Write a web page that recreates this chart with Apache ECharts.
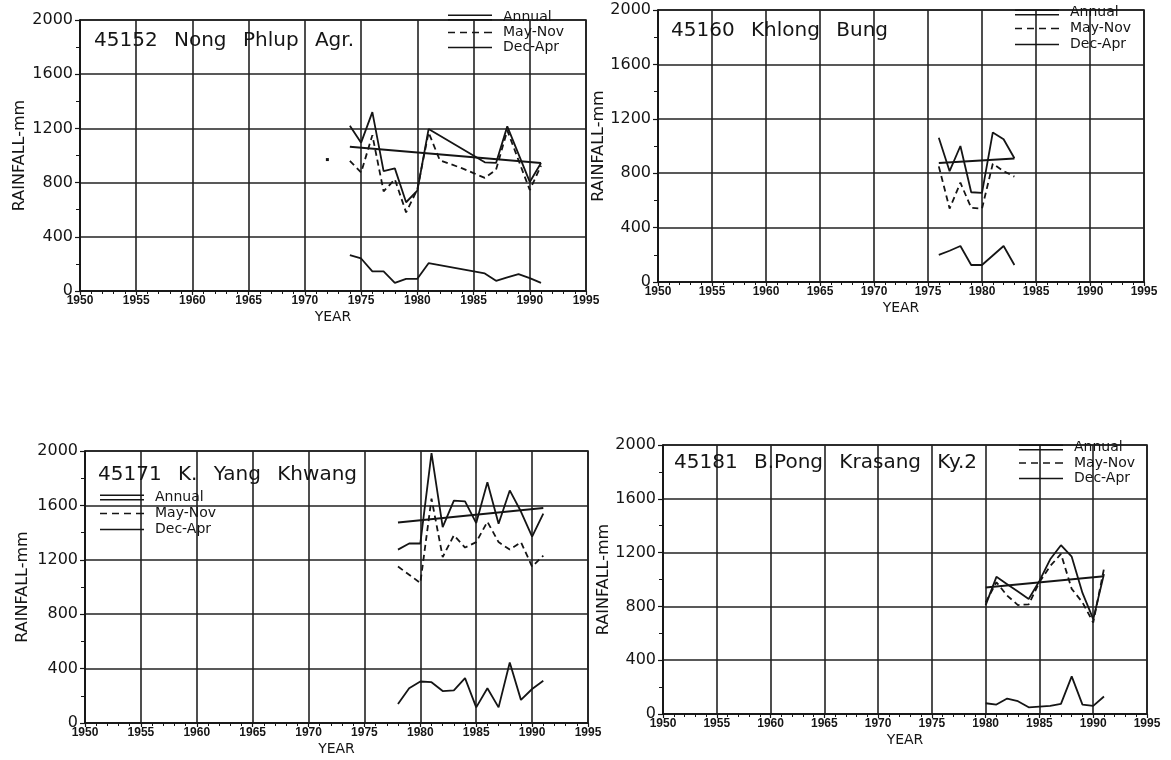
<!DOCTYPE html>
<html><head><meta charset="utf-8">
<script src="https://cdn.jsdelivr.net/npm/echarts@6/dist/echarts.min.js"></script>
<style>html,body{margin:0;background:#fff}#c{width:1171px;height:760px}</style>
</head><body><div id="c"></div>
<script>
// ---- Axis ranges / ticks ----
const yearMin = 1950, yearMax = 1995, yearStep = 5;
const rainMin = 0, rainMax = 2000, rainStep = 400;

// ---- Panel titles ----
const titles = [
  '45152\u2002 Nong\u2002 Phlup\u2002 Agr.',
  '45160\u2002 Khlong\u2002 Bung',
  '45171\u2002 K.\u2002 Yang\u2002 Khwang',
  '45181\u2002 B.Pong\u2002 Krasang\u2002 Ky.2'
];
const seriesNames = ['Annual', 'May-Nov', 'Dec-Apr'];

// ---- Panel 1: 45152 Nong Phlup Agr. ----
const p1Years  = [1972,1973,1974,1975,1976,1977,1978,1979,1980,1981,1982,1983,1984,1985,1986,1987,1988,1989,1990,1991];
const p1Annual = [null,null,1220,1095,1320,885,905,655,740,1195,null,null,null,null,950,945,1215,1010,805,945];
const p1MayNov = [970,null,960,875,1150,735,825,580,750,1170,965,935,905,870,835,895,1185,965,745,925];
const p1DecApr = [null,null,265,240,145,145,60,90,90,205,null,null,null,null,130,75,100,125,95,60];
const p1TrendYears = [1974,1991];
const p1Trend = [1065,945];

// ---- Panel 2: 45160 Khlong Bung ----
const p2Years  = [1976,1977,1978,1979,1980,1981,1982,1983];
const p2Annual = [1060,815,1000,660,655,1100,1050,910];
const p2MayNov = [850,540,730,545,540,870,815,775];
const p2DecApr = [200,230,265,125,125,195,265,125];
const p2TrendYears = [1976,1983];
const p2Trend = [875,908];

// ---- Panel 3: 45171 K. Yang Khwang ----
const p3Years  = [1978,1979,1980,1981,1982,1983,1984,1985,1986,1987,1988,1989,1990,1991];
const p3Annual = [1275,1320,1320,1985,1440,1635,1630,1470,1770,1465,1710,1555,1370,1540];
const p3MayNov = [1150,1090,1030,1650,1220,1380,1290,1330,1480,1330,1275,1330,1150,1230];
const p3DecApr = [140,255,305,300,235,240,330,115,255,115,445,170,250,310];
const p3TrendYears = [1978,1991];
const p3Trend = [1475,1580];

// ---- Panel 4: 45181 B.Pong Krasang Ky.2 ----
const p4Years  = [1980,1981,1982,1983,1984,1985,1986,1987,1988,1989,1990,1991];
const p4Annual = [810,1020,965,910,855,990,1150,1255,1170,900,705,1040];
const p4MayNov = [830,980,880,810,815,980,1100,1190,930,830,680,1080];
const p4DecApr = [80,70,115,95,50,55,60,75,280,70,60,130];
const p4TrendYears = [1980,1991];
const p4Trend = [940,1025];

const panels = [
  {years:p1Years, annual:p1Annual, mayNov:p1MayNov, decApr:p1DecApr, ty:p1TrendYears, tv:p1Trend},
  {years:p2Years, annual:p2Annual, mayNov:p2MayNov, decApr:p2DecApr, ty:p2TrendYears, tv:p2Trend},
  {years:p3Years, annual:p3Annual, mayNov:p3MayNov, decApr:p3DecApr, ty:p3TrendYears, tv:p3Trend},
  {years:p4Years, annual:p4Annual, mayNov:p4MayNov, decApr:p4DecApr, ty:p4TrendYears, tv:p4Trend}
];

// ---- Layout (pixels) ----
const grids = [
  {left:80,  top:20,  width:506, height:271},
  {left:658, top:10,  width:486, height:272},
  {left:85,  top:451, width:503, height:272},
  {left:663, top:445, width:484, height:269}
];
const titlePos = [[94,31],[671,21],[98,465],[674,453]];
const legendPos = [[448,10,0],[1015,5,1],[100,490,1],[1019,440,0.5]];
const yNameGap = [52,50,54,51];

const INK = '#151515';
const FONT = 'DejaVu Sans';
const ICON_DOUBLE = 'path://M0,0H44V1.6H0ZM0,4.4H44V6H0Z';
const ICON_DASH = 'path://M0,0H7V1.6H0ZM12,0H19V1.6H12ZM24,0H31V1.6H24ZM36,0H44V1.6H36Z';
const ICON_SOLID = 'path://M0,0H44V1.6H0Z';

function pairs(years, vals) {
  return years.map((y, i) => {
    const v = vals[i];
    const prev = i > 0 ? vals[i-1] : null;
    const next = i < vals.length - 1 ? vals[i+1] : null;
    if (v != null && prev == null && next == null) {
      return {value:[y, v], symbol:'rect', symbolSize:[3,3]};
    }
    return [y, v];
  });
}

const option = {
  backgroundColor:'#ffffff',
  animation:false,
  title: titles.map((t, i) => ({
    text:t, left:titlePos[i][0], top:titlePos[i][1], padding:0,
    textStyle:{fontSize:20, fontWeight:'normal', fontFamily:FONT, color:INK}
  })),
  legend: legendPos.map((p) => ({
    left:p[0], top:p[1], orient:'vertical', padding:0, itemGap:p[2],
    itemWidth:44, itemHeight:15, selectedMode:false,
    data:[
      {name:seriesNames[0], icon:ICON_DOUBLE, itemStyle:{color:INK, borderWidth:0}},
      {name:seriesNames[1], icon:ICON_DASH, itemStyle:{color:INK, borderWidth:0}},
      {name:seriesNames[2], icon:ICON_SOLID, itemStyle:{color:INK, borderWidth:0}}
    ],
    textStyle:{fontSize:14, fontFamily:FONT, color:INK, padding:[0,0,0,6], lineHeight:15}
  })),
  grid: grids.map(g => Object.assign({show:true, borderColor:INK, borderWidth:1.6, backgroundColor:'transparent'}, g)),
  xAxis: grids.map((g, i) => ({
    gridIndex:i, type:'value', min:yearMin, max:yearMax, interval:yearStep,
    name:'YEAR', nameLocation:'middle', nameGap:19,
    nameTextStyle:{fontSize:14, fontFamily:FONT, color:INK},
    axisLine:{show:true, lineStyle:{color:INK, width:1.6}},
    axisTick:{show:true, length:4, lineStyle:{color:INK, width:1.2}},
    minorTick:{show:true, splitNumber:5, length:3, lineStyle:{color:INK, width:1}},
    axisLabel:{formatter:v => String(v), fontSize:12, fontWeight:'bold', fontFamily:'Liberation Sans', color:INK, margin:4},
    splitLine:{show:true, lineStyle:{color:'#222', width:1.6}}
  })),
  yAxis: grids.map((g, i) => ({
    gridIndex:i, type:'value', min:rainMin, max:rainMax, interval:rainStep,
    name:'RAINFALL-mm', nameLocation:'middle', nameGap:yNameGap[i], nameRotate:90,
    nameTextStyle:{fontSize:16, fontFamily:FONT, color:INK},
    axisLine:{show:true, lineStyle:{color:INK, width:1.6}},
    axisTick:{show:true, length:5, lineStyle:{color:INK, width:1.2}},
    minorTick:{show:true, splitNumber:2, length:4, lineStyle:{color:INK, width:1}},
    axisLabel:{formatter:v => String(v), fontSize:16, fontFamily:FONT, color:INK, margin:7},
    splitLine:{show:true, lineStyle:{color:'#222', width:1.6}}
  })),
  series: []
};

panels.forEach((p, i) => {
  option.series.push({
    name:seriesNames[0], type:'line', xAxisIndex:i, yAxisIndex:i, data:pairs(p.years, p.annual),
    connectNulls:true, symbol:'none', showSymbol:true, color:INK,
    lineStyle:{color:INK, width:1.8}, z:3
  });
  option.series.push({
    name:seriesNames[1], type:'line', xAxisIndex:i, yAxisIndex:i, data:pairs(p.years, p.mayNov),
    connectNulls:false, symbol:'none', showSymbol:true, color:INK,
    itemStyle:{color:INK},
    lineStyle:{color:INK, width:1.8, type:[6,4]}, z:3
  });
  option.series.push({
    name:seriesNames[2], type:'line', xAxisIndex:i, yAxisIndex:i, data:pairs(p.years, p.decApr),
    connectNulls:true, symbol:'none', showSymbol:true, color:INK,
    lineStyle:{color:INK, width:1.8}, z:3
  });
  option.series.push({
    name:'Annual trend', type:'line', xAxisIndex:i, yAxisIndex:i,
    data:p.ty.map((y, k) => [y, p.tv[k]]),
    symbol:'none', color:INK, lineStyle:{color:INK, width:2}, z:3
  });
});

const chart = echarts.init(document.getElementById('c'), null, {renderer:'canvas'});
chart.setOption(option);
</script></body></html>
